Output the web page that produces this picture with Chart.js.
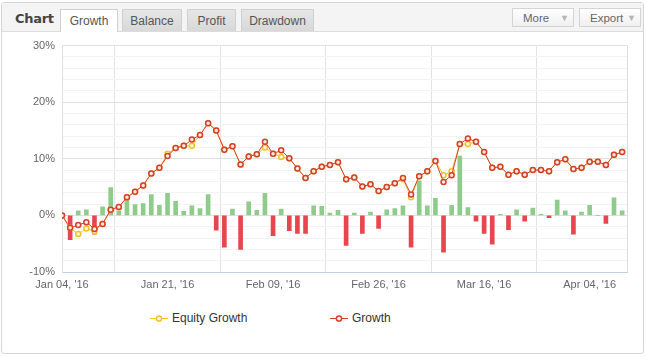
<!DOCTYPE html>
<html>
<head>
<meta charset="utf-8">
<script src="https://cdn.jsdelivr.net/npm/chart.js@4.4.1/dist/chart.umd.min.js"></script>
<style>
  html, body { margin: 0; padding: 0; background: #fff; }
  body { width: 647px; height: 357px; position: relative; overflow: hidden; font-family: "Liberation Sans", Arial, sans-serif; }
  #frame { position: absolute; left: 1px; top: 2px; width: 643px; height: 352px; border: 1px solid #d6d6d6; border-radius: 3px; box-sizing: border-box; }
  #head { position: absolute; left: 2px; top: 3px; width: 641px; height: 28px; background: #f4f4f4; border-bottom: 1px solid #dcdcdc; }
  #title { position: absolute; left: 15px; top: 11px; font-size: 13px; font-weight: bold; color: #444; font-family: "DejaVu Sans", sans-serif; letter-spacing: -0.3px; }
  .tab { position: absolute; top: 9px; height: 22px; line-height: 22px; text-align: center; font-size: 12px; color: #555; background: linear-gradient(#e6e6e6, #d8d8d8); border: 1px solid #d0d0d0; border-bottom: none; box-sizing: border-box; font-family: "Liberation Sans", sans-serif; }
  .tab.active { background: #fff; height: 23px; color: #555; }
  .btn { position: absolute; top: 8px; height: 19px; line-height: 18px; font-size: 11.5px; color: #666; background: linear-gradient(#ffffff, #f0f0f0); border: 1px solid #d4d4d4; box-sizing: border-box; padding-left: 10px; font-family: "Liberation Sans", sans-serif; }
  .btn .arr { position: absolute; right: 4px; top: 0; color: #b5b5b5; font-size: 9px; }
  #cwrap { position: absolute; left: 0; top: 32px; width: 647px; height: 263px; }
  #legend { position: absolute; top: 309px; left: 0; width: 647px; height: 18px; font-size: 12px; color: #333; }
  .li { position: absolute; top: 0; height: 18px; line-height: 18px; }
  .li canvas { position: absolute; left: 0; top: 5px; }
  .li span { position: absolute; left: 22px; white-space: nowrap; }
</style>
</head>
<body>
<div id="frame"></div>
<div id="head"></div>
<div id="title">Chart</div>
<div class="tab active" style="left:60px;width:58px;">Growth</div>
<div class="tab" style="left:122px;width:60px;">Balance</div>
<div class="tab" style="left:187px;width:49px;">Profit</div>
<div class="tab" style="left:241px;width:73px;">Drawdown</div>
<div class="btn" style="left:512px;width:62px;">More<span class="arr">&#9660;</span></div>
<div class="btn" style="left:579px;width:62px;">Export<span class="arr">&#9660;</span></div>
<div id="cwrap"><canvas id="c" width="647" height="263"></canvas></div>
<div id="legend">
  <div class="li" style="left:150px;"><canvas id="l1" width="18" height="8"></canvas><span>Equity Growth</span></div>
  <div class="li" style="left:330px;"><canvas id="l2" width="18" height="8"></canvas><span>Growth</span></div>
</div>
<script>
// Tick labels and their category positions (trading-day index)
const tickLabels = ["Jan 04, '16", "Jan 21, '16", "Feb 09, '16", "Feb 26, '16", "Mar 16, '16", "Apr 04, '16"];
const tickIndex = [0, 13, 26, 39, 52, 65];

// Growth (%) per trading day
const growth = [0, -2.2, -1.7, -1.2, -2.4, -1.5, 1.0, 1.5, 3.2, 4.2,
  5.3, 7.4, 8.4, 10.5, 11.9, 12.3, 13.4, 14.2, 16.3, 15.0,
  11.6, 12.2, 9.0, 10.4, 10.8, 13.0, 10.9, 11.5, 10.1, 8.3,
  6.6, 7.8, 8.6, 8.9, 9.4, 6.4, 6.7, 5.1, 5.5, 4.3,
  5.0, 5.7, 6.6, 3.7, 6.9, 7.8, 9.6, 5.9, 7.1, 12.6,
  13.6, 13.0, 11.2, 8.4, 8.6, 7.2, 7.8, 7.2, 8.0, 8.0,
  7.8, 9.4, 9.9, 8.2, 8.4, 9.5, 9.5, 8.9, 10.7, 11.2];

// Equity Growth (%) per trading day
const equityGrowth = [0, -2.2, -3.3, -2.3, -2.8, -1.5, 1.0, 1.5, 3.2, 4.2,
  5.3, 7.4, 8.4, 10.9, 11.9, 12.3, 12.3, 14.2, 16.3, 15.0,
  11.6, 12.2, 9.0, 10.4, 10.8, 12.0, 10.9, 10.3, 10.1, 8.3,
  6.6, 7.8, 8.6, 8.9, 9.4, 6.4, 6.7, 5.1, 5.5, 4.3,
  5.0, 5.7, 6.4, 3.2, 6.9, 7.8, 9.6, 7.1, 7.8, 12.6,
  12.6, 13.0, 11.2, 8.4, 8.6, 7.2, 7.8, 7.2, 8.0, 8.0,
  7.8, 9.4, 9.9, 8.2, 8.4, 9.5, 9.5, 8.9, 10.7, 11.2];

// Daily change (%) bars
const dailyChange = [0, -4.3, 0.8, 1.0, -3.3, 1.5, 4.9, 0.8, 2.9, 1.9,
  2.1, 3.7, 1.8, 3.9, 2.5, 0.7, 1.7, 1.2, 3.7, -2.6,
  -5.6, 1.1, -6.0, 2.4, 0.9, 3.9, -3.6, 1.1, -2.7, -3.2,
  -3.2, 1.7, 1.6, 0.4, 0.9, -5.3, 0.4, -3.2, 0.6, -2.3,
  1.0, 1.2, 1.7, -5.6, 6.1, 1.7, 3.0, -6.5, 1.8, 10.5,
  1.4, -1.0, -3.2, -5.1, 0.2, -2.5, 1.0, -1.0, 1.3, 0.2,
  -0.4, 2.7, 0.8, -3.3, 0.6, 1.8, 0, -1.4, 3.1, 0.8];

const GREEN = '#8fcc8c', RED = '#e8464e';
const EQ = '#f2c228', GR = '#d5402a';

const toXY = arr => arr.map((v, i) => ({ x: i, y: v }));

function legendIcon(id, color) {
  const c = document.getElementById(id), g = c.getContext('2d');
  g.strokeStyle = color; g.lineWidth = 1;
  g.beginPath(); g.moveTo(0, 4.5); g.lineTo(18, 4.5); g.stroke();
  g.fillStyle = '#fff'; g.lineWidth = 1.5;
  g.beginPath(); g.arc(9, 4.5, 2.6, 0, Math.PI * 2); g.fill(); g.stroke();
}
legendIcon('l1', EQ);
legendIcon('l2', GR);

const plotBorder = {
  id: 'plotBorder',
  afterDraw(chart) {
    const a = chart.chartArea, g = chart.ctx;
    g.save(); g.strokeStyle = '#dddddd'; g.lineWidth = 1;
    g.beginPath(); g.moveTo(Math.round(a.right) + 0.5, a.top); g.lineTo(Math.round(a.right) + 0.5, a.bottom); g.stroke();
    g.restore();
  }
};

const isMajor = v => Math.abs(v - Math.round(v / 10) * 10) < 1e-6;

new Chart(document.getElementById('c'), {
  data: {
    datasets: [
      {
        type: 'line', label: 'Growth', data: toXY(growth), order: 0,
        borderColor: GR, borderWidth: 1, pointRadius: 2.5, pointBorderWidth: 1.5,
        pointBackgroundColor: '#fbe9e6', pointBorderColor: GR, tension: 0
      },
      {
        type: 'line', label: 'Equity Growth', data: toXY(equityGrowth), order: 1,
        borderColor: EQ, borderWidth: 1, pointRadius: 2.5, pointBorderWidth: 1.5,
        pointBackgroundColor: '#fffbe6', pointBorderColor: EQ, tension: 0
      },
      {
        type: 'bar', label: 'Daily', data: toXY(dailyChange), order: 2,
        backgroundColor: dailyChange.map(v => v >= 0 ? GREEN : RED),
        barThickness: 4, borderWidth: 0
      }
    ]
  },
  options: {
    responsive: false,
    animation: false,
    layout: { padding: { left: 0, right: 20, top: 10, bottom: 0 } },
    plugins: { legend: { display: false }, tooltip: { enabled: false } },
    scales: {
      x: {
        type: 'linear', min: 0, max: 69.6, offset: false,
        afterBuildTicks: s => { s.ticks = tickIndex.map(v => ({ value: v })); },
        afterFit: s => { s.height = 23; },
        ticks: {
          autoSkip: false, maxRotation: 0, padding: 6, color: '#666',
          font: { family: 'Liberation Sans', size: 11 },
          callback: v => { const k = tickIndex.indexOf(v); return k >= 0 ? tickLabels[k] : ''; }
        },
        grid: { color: '#e4e4e4', drawTicks: false },
        border: { color: '#c0d0e0' }
      },
      y: {
        min: -10, max: 30,
        afterFit: s => { s.width = 62; },
        ticks: {
          stepSize: 2, autoSkip: false, padding: 7, color: '#666',
          font: { family: 'Liberation Sans', size: 11 },
          callback: v => (isMajor(v) ? Math.round(v) + '%' : '')
        },
        grid: {
          drawTicks: false,
          color: ctx => (isMajor(ctx.tick.value) ? '#e0e0e0' : '#f3f3f3')
        },
        border: { color: '#e0e0e0' }
      }
    }
  },
  plugins: [plotBorder]
});
</script>
</body>
</html>
